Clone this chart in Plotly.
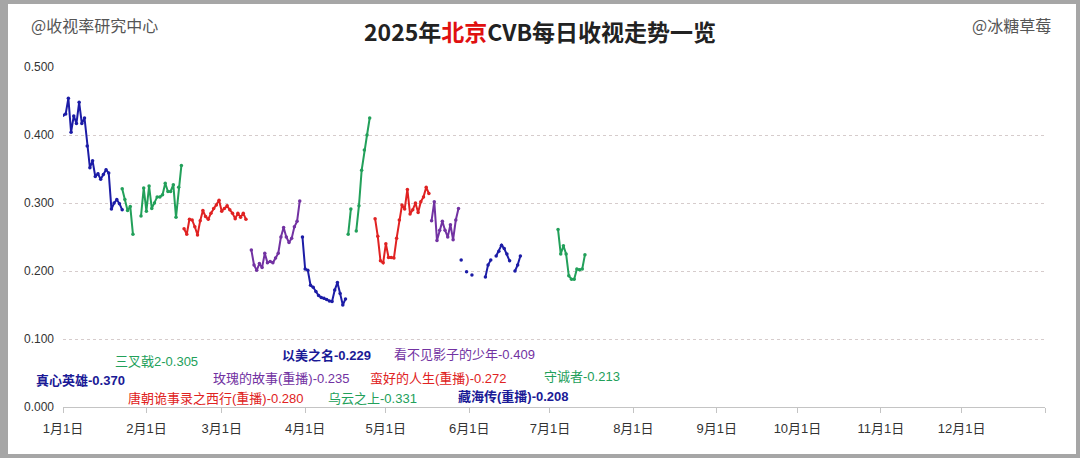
import pandas as pd
import plotly.graph_objects as go

# ---------------- data ----------------
series_names = ["真心英雄", "三叉戟2", "唐朝诡事录之西行(重播)", "玫瑰的故事(重播)", "以美之名",
                "乌云之上", "蛮好的人生(重播)", "看不见影子的少年", "藏海传(重播)", "守诚者"]
series_starts = ["2025-01-01", "2025-01-23", "2025-02-15", "2025-03-12", "2025-03-31",
                 "2025-04-17", "2025-04-27", "2025-05-18", "2025-05-29", "2025-07-04"]

v_zhenxin = [0.429, 0.431, 0.454, 0.404, 0.428, 0.417, 0.448, 0.417, 0.425, 0.384, 0.352, 0.362,
             0.339, 0.343, 0.335, 0.342, 0.349, 0.344, 0.291, 0.300, 0.305, 0.299, 0.290]
v_sanchaji = [0.321, 0.305, 0.289, 0.295, 0.254, None, None, 0.281, 0.322, 0.288, 0.325, 0.292,
              0.300, 0.309, 0.309, 0.312, 0.329, 0.317, 0.317, 0.327, 0.279, 0.323, 0.355]
v_tangchao = [0.262, 0.254, 0.276, 0.275, 0.265, 0.253, 0.274, 0.289, 0.280, 0.276, 0.285, 0.292,
              0.297, 0.304, 0.288, 0.292, 0.296, 0.290, 0.285, 0.277, 0.285, 0.279, 0.285, 0.276]
v_meigui = [0.231, 0.209, 0.201, 0.211, 0.205, 0.226, 0.212, 0.214, 0.212, 0.219, 0.226, 0.250,
            0.264, 0.250, 0.242, 0.248, 0.265, 0.273, 0.303]
v_yimei = [0.250, 0.203, 0.201, 0.179, 0.176, 0.170, 0.164, 0.161, 0.160, 0.158, 0.156, 0.155,
           0.172, 0.183, 0.167, 0.150, 0.159]
v_wuyun = [0.254, 0.291, None, 0.259, 0.296, 0.348, 0.378, 0.400, 0.425]
v_manhao = [0.277, 0.251, 0.215, 0.212, 0.240, 0.220, 0.220, 0.219, 0.248, 0.275, 0.297, 0.291,
            0.320, 0.284, 0.290, 0.300, 0.286, 0.302, 0.309, 0.323, 0.314]
v_yingzi = [0.274, 0.302, 0.245, 0.260, 0.273, 0.260, 0.250, 0.268, 0.246, 0.275, 0.292]
v_canghai = [0.216, None, 0.199, None, 0.194, None, None, None, None, 0.191, 0.209, 0.216, None,
             0.222, 0.229, 0.238, 0.233, 0.225, 0.215, None, 0.200, 0.209, 0.222]
v_shoucheng = [0.261, 0.225, 0.237, 0.225, 0.193, 0.188, 0.188, 0.203, 0.202, 0.203, 0.224]

series_values = [v_zhenxin, v_sanchaji, v_tangchao, v_meigui, v_yimei,
                 v_wuyun, v_manhao, v_yingzi, v_canghai, v_shoucheng]

label_texts = ["真心英雄-0.370", "三叉戟2-0.305", "以美之名-0.229", "看不见影子的少年-0.409",
               "玫瑰的故事(重播)-0.235", "蛮好的人生(重播)-0.272", "唐朝诡事录之西行(重播)-0.280",
               "乌云之上-0.331", "藏海传(重播)-0.208", "守诚者-0.213"]

month_ticks = [f"2025-{m:02d}-01" for m in range(1, 13)] + ["2026-01-01"]
month_labels = [f"{m}月1日" for m in range(1, 13)] + [""]
y_ticks = [0.0, 0.1, 0.2, 0.3, 0.4, 0.5]

# ---------------- styles ----------------
NAVY = "#1c1ca6"
GREEN = "#22a05a"
RED = "#e02222"
PURPLE = "#7232a2"
series_colors = [NAVY, GREEN, RED, PURPLE, NAVY, GREEN, RED, PURPLE, NAVY, GREEN]

FONT = "Liberation Sans, Noto Sans CJK SC, sans-serif"
CJK = "Noto Sans CJK SC, sans-serif"
W, H = 1080, 458
L, R, T, B = 63, 35, 67, 51
PW, PH = W - L - R, H - T - B


def px(x):
    return (x - L) / PW


def py(y):
    return (H - B - y) / PH


fig = go.Figure()
for name, start, vals, col in zip(series_names, series_starts, series_values, series_colors):
    dates = pd.date_range(start, periods=len(vals), freq="D")
    fig.add_trace(go.Scatter(
        x=dates, y=vals, name=name, mode="lines+markers",
        line=dict(color=col, width=2), marker=dict(color=col, size=3.5),
        connectgaps=False, showlegend=False,
        hovertemplate="%{x|%m月%d日}<br>%{y:.3f}<extra>" + name + "</extra>"))

# series labels (left edge px, center y px)
label_pos = [(34, 380), (113, 361), (280, 355), (392, 354), (211, 378), (368, 378),
             (126, 398), (326, 398), (456, 396), (542, 376)]
label_colors = ["#1a1a96", GREEN, "#1a1a96", PURPLE, PURPLE, RED, RED, GREEN, "#1a1a96", GREEN]
label_bold = [True, False, True, False, False, False, False, False, True, False]
annotations = []
for txt, (lx, ly), col, bd in zip(label_texts, label_pos, label_colors, label_bold):
    annotations.append(dict(
        x=px(lx), y=py(ly), xref="paper", yref="paper", xanchor="left", yanchor="middle",
        text=f"<b>{txt}</b>" if bd else txt, showarrow=False,
        font=dict(family=FONT, size=13, color=col)))

# title and corner texts
annotations.append(dict(
    x=px(540), y=py(31), xref="paper", yref="paper", xanchor="center", yanchor="middle",
    text="<b>2025年<span style='color:#e01010'>北京</span>CVB每日收视走势一览</b>",
    showarrow=False, font=dict(family=CJK, size=23, color="#222222")))
annotations.append(dict(
    x=px(29), y=py(25), xref="paper", yref="paper", xanchor="left", yanchor="middle",
    text="@收视率研究中心", showarrow=False,
    font=dict(family=CJK, size=16, color="#555555")))
annotations.append(dict(
    x=px(1053), y=py(25), xref="paper", yref="paper", xanchor="right", yanchor="middle",
    text="@冰糖草莓", showarrow=False,
    font=dict(family=CJK, size=16, color="#555555")))

shapes = [
    dict(type="rect", xref="paper", yref="paper", x0=px(2), x1=px(W - 2), y0=py(H - 2), y1=py(2),
         line=dict(color="#a6a6a6", width=4), fillcolor="rgba(0,0,0,0)", layer="below"),
    dict(type="rect", xref="paper", yref="paper", x0=px(0), x1=px(8), y0=py(H), y1=py(0),
         line=dict(width=0), fillcolor="#a6a6a6", layer="below"),
]

fig.update_layout(
    width=W, height=H,
    margin=dict(l=L, r=R, t=T, b=B, pad=0),
    paper_bgcolor="white", plot_bgcolor="white",
    font=dict(family=FONT, color="#333333"),
    annotations=annotations, shapes=shapes,
    xaxis=dict(
        type="date", range=["2025-01-01", "2026-01-01"],
        tickmode="array", tickvals=month_ticks, ticktext=month_labels,
        showgrid=False, zeroline=False,
        showline=True, linecolor="#c4c4c4", linewidth=1,
        ticks="outside", ticklen=5, tickcolor="#c4c4c4",
        tickfont=dict(size=13, color="#333333"), ticklabelstandoff=4),
    yaxis=dict(
        range=[0, 0.5], tickmode="array", tickvals=y_ticks, tickformat=".3f",
        showgrid=True, gridcolor="#d6cccc", griddash="dot", gridwidth=1,
        zeroline=False, showline=False, ticks="",
        tickfont=dict(size=12, color="#333333"), ticklabelstandoff=8),
)

fig.write_html(
    "out.html",
    config={"displayModeBar": False},
    post_script="document.body.style.margin='0';document.body.style.padding='0';"
                "document.documentElement.style.overflow='hidden';")
